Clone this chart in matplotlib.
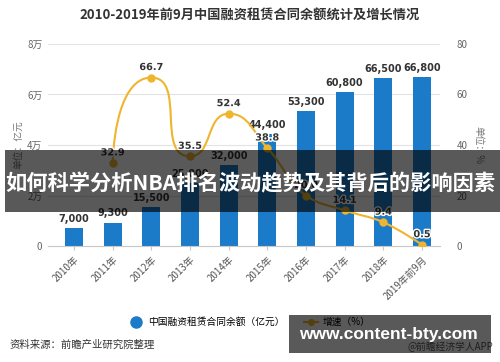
import numpy as np
import matplotlib
matplotlib.use("Agg")
import matplotlib.pyplot as plt
from matplotlib.path import Path
from matplotlib.patches import PathPatch, Rectangle
from matplotlib.lines import Line2D
import matplotlib.patheffects as pe

plt.rcParams['font.family'] = ['Noto Sans CJK SC', 'DejaVu Sans']

categories = ["2010年", "2011年", "2012年", "2013年", "2014年", "2015年",
              "2016年", "2017年", "2018年", "2019年前9月"]
balance = [7000, 9300, 15500, 25000, 32000, 44400, 53300, 60800, 66500, 66800]
growth_years = categories[1:]
growth = [32.9, 66.7, 35.5, 52.4, 38.8, 20.0, 14.1, 9.4, 0.5]
left_ticks = [0, 20000, 40000, 60000, 80000]
left_labels = ["0", "2万", "4万", "6万", "8万"]
right_ticks = [0, 20, 40, 60, 80]

BLUE = '#1b7bc9'
GOLD = '#efb52f'

fig = plt.figure(figsize=(5.0, 3.62), dpi=100)
W, H = 500, 362
ax = fig.add_axes([48 / W, 1 - 246 / H, (440 - 48) / W, (246 - 44) / H])
ax2 = ax.twinx()

x = np.arange(len(categories))
ax.bar(x, balance, width=0.47, color=BLUE, zorder=2)
ax.set_xlim(-0.672, 9.465)
ax.set_ylim(0, 80000)
ax2.set_ylim(0, 80)
ax.set_yticks(left_ticks)
ax.set_yticklabels(left_labels)
ax2.set_yticks(right_ticks)
ax.grid(axis='y', color='#e3e3e3', lw=0.8, zorder=0)
ax.set_axisbelow(True)
for a in (ax, ax2):
    for s in ['left', 'right', 'top']:
        a.spines[s].set_visible(False)
    a.spines['bottom'].set_color('#c8c8c8')
ax2.spines['bottom'].set_visible(False)
ax.tick_params(axis='y', length=0, labelsize=7, labelcolor='#666666', pad=4)
ax2.tick_params(axis='y', length=0, labelsize=7, labelcolor='#666666', pad=12)
ax.set_xticks(x)
ax.set_xticklabels(categories, rotation=45, ha='right', rotation_mode='anchor',
                   fontsize=7, color='#555555')
ax.tick_params(axis='x', length=3, color='#c8c8c8', pad=3)

for xi, v in zip(x, balance):
    ax.annotate(f"{v:,}", (xi, v), xytext=(0, 3), textcoords='offset points',
                ha='center', va='bottom', fontsize=7, fontweight='bold',
                color='#333333', family=['DejaVu Sans'])

# smooth line (Highcharts-style spline) in display space
gx = x[1:]
pts = ax2.transData.transform(np.column_stack([gx, growth]))
n = len(pts)
lc = [None] * n
rc = [None] * n
sm = 1.5
den = sm + 1
for i in range(1, n - 1):
    px, py = pts[i]
    lx, ly = pts[i - 1]
    nx, ny = pts[i + 1]
    lcx = (sm * px + lx) / den
    lcy = (sm * py + ly) / den
    rcx = (sm * px + nx) / den
    rcy = (sm * py + ny) / den
    dl = np.hypot(lcx - px, lcy - py)
    dr = np.hypot(rcx - px, rcy - py)
    la = np.arctan2(lcy - py, lcx - px)
    ra = np.arctan2(rcy - py, rcx - px)
    ja = np.pi / 2 + (la + ra) / 2
    if abs(la - ja) > np.pi / 2:
        ja -= np.pi
    lcx = px + np.cos(ja) * dl
    lcy = py + np.sin(ja) * dl
    rcx = px + np.cos(np.pi + ja) * dr
    rcy = py + np.sin(np.pi + ja) * dr
    if rcy > py and rcy > ny:
        rcy = max(py, ny); lcy = 2 * py - rcy
    elif rcy < py and rcy < ny:
        rcy = min(py, ny); lcy = 2 * py - rcy
    if lcy > ly and lcy > py:
        lcy = max(ly, py); rcy = 2 * py - lcy
    elif lcy < ly and lcy < py:
        lcy = min(ly, py); rcy = 2 * py - lcy
    lc[i] = (lcx, lcy)
    rc[i] = (rcx, rcy)

verts = [tuple(pts[0])]
codes = [Path.MOVETO]
for i in range(1, n):
    c1 = rc[i - 1] if rc[i - 1] is not None else tuple(pts[i - 1])
    c2 = lc[i] if lc[i] is not None else tuple(pts[i])
    verts += [c1, c2, tuple(pts[i])]
    codes += [Path.CURVE4] * 3
inv = ax2.transData.inverted()
verts_data = inv.transform(np.array(verts))
patch = PathPatch(Path(verts_data, codes), facecolor='none', edgecolor=GOLD,
                  lw=1.5, zorder=3)
ax2.add_patch(patch)
ax2.plot(gx, growth, 'o', color=GOLD, markersize=5, zorder=4)
for xi, v in zip(gx, growth):
    ax2.annotate(f"{v}", (xi, v), xytext=(0, 4), textcoords='offset points',
                 ha='center', va='bottom', fontsize=7, fontweight='bold',
                 color='#333333', family=['DejaVu Sans'],
                 path_effects=[pe.withStroke(linewidth=2, foreground='white')])

# title and labels
fig.text(0.5, 1 - 16 / H, "2010-2019年前9月中国融资租赁合同余额统计及增长情况",
         ha='center', va='center', fontsize=9.5, fontweight='bold', color='#333333')
fig.text(18 / W, 1 - 145 / H, "单位：亿元", rotation=90, ha='center', va='center',
         fontsize=7, color='#777777')
fig.text(478 / W, 1 - 145 / H, "单位：%", rotation=-90, ha='center', va='center',
         fontsize=7, color='#777777')

handles = [Line2D([], [], marker='o', ls='none', color=BLUE, markersize=8),
           Line2D([], [], marker='o', ls='-', color=GOLD, markersize=4, lw=1.5)]
fig.legend(handles, ["中国融资租赁合同余额（亿元）", "增速（%）"],
           loc='center', bbox_to_anchor=(0.5, 1 - 322 / H), ncol=2, frameon=False,
           fontsize=7, handlelength=1.4, columnspacing=2.0, handletextpad=0.5)

fig.text(10 / W, 1 - 345 / H, "资料来源：前瞻产业研究院整理", ha='left', va='center',
         fontsize=7.5, color='#333333')
fig.text(493 / W, 1 - 347 / H, "@前瞻经济学人APP", ha='right', va='center',
         fontsize=7, color='#555555')

# overlay banner
fig.patches.append(Rectangle((5 / W, 1 - 212 / H), 1 - 5 / W, 62 / H,
                             transform=fig.transFigure, facecolor='black',
                             alpha=0.65, edgecolor='none', zorder=10))
fig.text(250 / W, 1 - 184 / H, "如何科学分析NBA排名波动趋势及其背后的影响因素",
         ha='center', va='center', fontsize=15.3, fontweight='bold', color='white',
         zorder=11)
fig.patches.append(Rectangle((289 / W, 1 - 353 / H), 202 / W, 38 / H,
                             transform=fig.transFigure, facecolor='black',
                             alpha=0.65, edgecolor='none', zorder=10))
fig.text(388 / W, 1 - 335 / H, "www.content-bty.com", ha='center', va='center',
         fontsize=12.5, fontweight='bold', color='white', zorder=11,
         family=['Liberation Sans'])

fig.savefig("out.png", dpi=100)
